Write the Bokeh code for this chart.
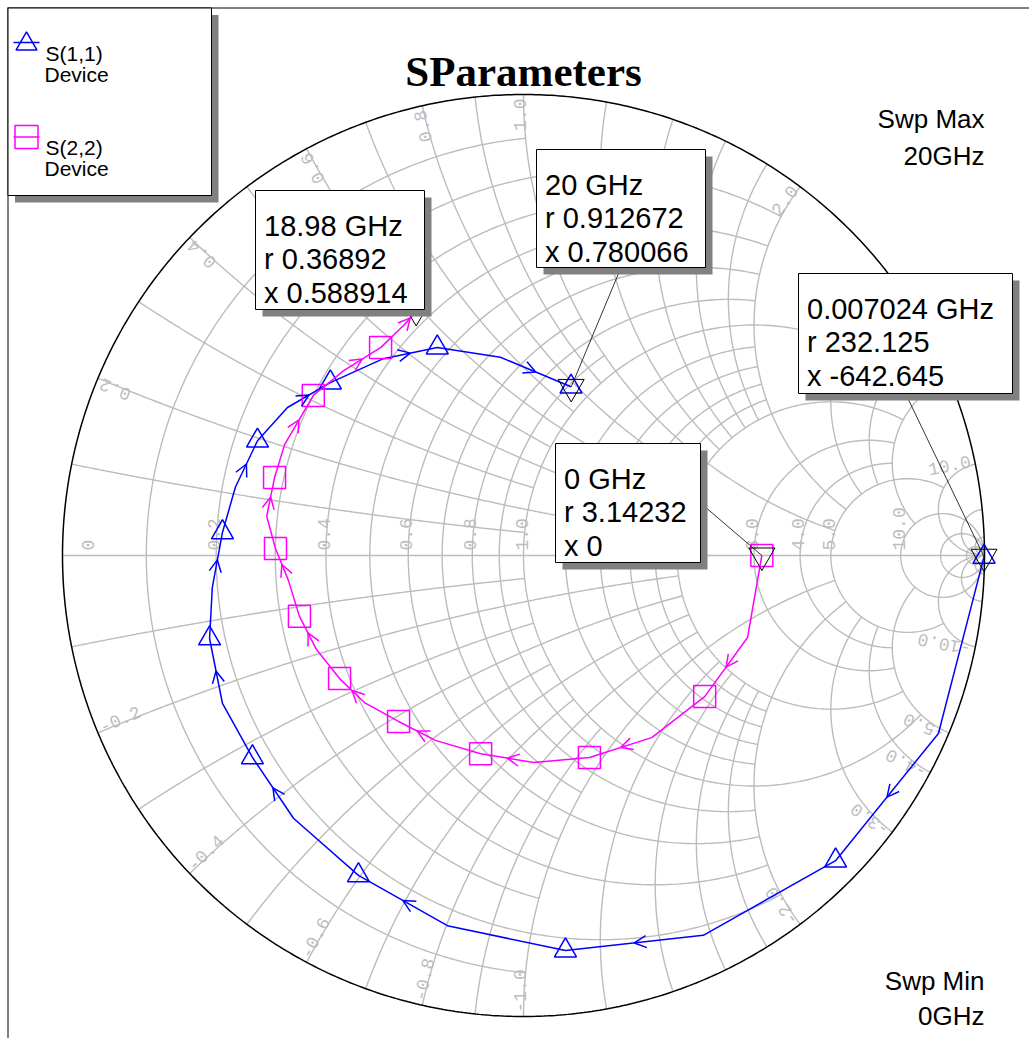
import numpy as np
from bokeh.plotting import figure
from bokeh.models import ColumnDataSource, Arrow, OpenHead, Range1d
from bokeh.core.properties import value
from bokeh.embed import file_html
from bokeh.resources import INLINE

s11_re = [0.999, 0.900, 0.677, 0.390, 0.091, -0.165, -0.358, -0.499, -0.588, -0.653, -0.681,
          -0.675, -0.653, -0.625, -0.577, -0.512, -0.419, -0.304, -0.187, -0.050, 0.103]
s11_im = [-0.003, -0.386, -0.662, -0.824, -0.857, -0.803, -0.694, -0.570, -0.438, -0.321, -0.180,
          -0.069, 0.050, 0.148, 0.249, 0.321, 0.375, 0.427, 0.451, 0.430, 0.366]
s22_re = [0.517, 0.486, 0.393, 0.278, 0.143, 0.022, -0.093, -0.191, -0.271, -0.345, -0.399,
          -0.449, -0.486, -0.510, -0.538, -0.557, -0.540, -0.518, -0.456, -0.390, -0.310,
          -0.258, -0.233]
s22_im = [0.000, -0.178, -0.306, -0.395, -0.438, -0.449, -0.430, -0.401, -0.360, -0.319, -0.267,
          -0.204, -0.132, -0.054, 0.015, 0.085, 0.169, 0.241, 0.347, 0.401, 0.451,
          0.501, 0.530]
trace_names = ["S(1,1)", "S(2,2)"]
trace_sub = ["Device", "Device"]
n_symbols = 11   # symbols drawn on every second point

# marker read-outs
mk_freq = ["18.98 GHz", "20 GHz", "0.007024 GHz", "0 GHz"]
mk_r = ["0.36892", "0.912672", "232.125", "3.14232"]
mk_x = ["0.588914", "0.780066", "-642.645", "0"]

# Smith grid: circle value and the limit of the other coordinate
inf = float("inf")
r_grid = [0.1, 0.2, 0.3, 0.4, 0.5, 0.6, 0.7, 0.8, 0.9, 1.0, 1.2, 1.4, 1.6, 1.8, 2.0, 3.0, 4.0, 5.0, 10.0, 20.0, 50.0]
r_limit = [1, 2, 1, 2, 1, 2, 1, 2, 1, 5, 2, 2, 2, 2, 5, 5, 5, 10, inf, inf, inf]
x_grid = r_grid
x_limit = r_limit
r_labels = [0, 0.2, 0.4, 0.6, 0.8, 1.0, 2.0, 3.0, 4.0, 5.0, 10.0]
x_labels = [0.2, 0.4, 0.6, 0.8, 1.0, 2.0, 3.0, 4.0, 5.0, 10.0,
            -0.2, -0.4, -0.6, -0.8, -1.0, -2.0, -3.0, -4.0, -5.0, -10.0]

# ---------------- layout ----------------
W, H = 1029, 1038
CX, CY, RP = 523.0, 555.0, 461.0
PX = 1.0 / RP


def dx(px):
    return (px - CX) / RP


def dy(py):
    return (CY - py) / RP


p = figure(width=W, height=H, x_range=Range1d(dx(0), dx(W)), y_range=Range1d(dy(H), dy(0)),
           toolbar_location=None, output_backend="svg", x_axis_location=None, y_axis_location=None,
           min_border=0, outline_line_color=None, background_fill_color="white",
           border_fill_color="white")
p.xgrid.visible = False
p.ygrid.visible = False

GRID = "#BCBCBC"
LBL = "#BDBDBD"

# grid curves
gx, gy = [], []
for r, lim in zip(r_grid, r_limit):
    a = np.pi / 2 - 1e-3 if np.isinf(lim) else np.arctan(lim)
    t = np.linspace(-a, a, 401)
    z = r + 1j * np.tan(t)
    g = (z - 1) / (z + 1)
    gx.append(g.real.tolist()); gy.append(g.imag.tolist())
for xv, lim in zip(x_grid, x_limit):
    a = np.pi / 2 - 1e-3 if np.isinf(lim) else np.arctan(lim)
    t = np.linspace(0, a, 301)
    for s in (1, -1):
        z = np.tan(t) + 1j * s * xv
        g = (z - 1) / (z + 1)
        gx.append(g.real.tolist()); gy.append(g.imag.tolist())
gx.append([-1.0, 1.0]); gy.append([0.0, 0.0])
p.multi_line(gx, gy, line_color=GRID, line_width=1.4)

# r labels
lx, ly, lt = [], [], []
for r in r_labels:
    g = (r - 1) / (r + 1)
    off = 25 if r == 0 else -2
    lx.append(g + off * PX); ly.append(5 * PX); lt.append("0" if r == 0 else f"{r:.1f}")
p.text(lx, ly, text=lt, angle=np.pi / 2, text_align="left", text_baseline="alphabetic",
       text_font=value("Liberation Mono"), text_font_size=value("18px"), text_color=LBL)

# x labels
for sgn in (1, -1):
    lx, ly, lt, la = [], [], [], []
    for xv in x_labels:
        if np.sign(xv) != sgn:
            continue
        th = 2 * np.arctan(1 / xv)
        rho = 1 - 4 * PX
        phi = th + 4 * PX * sgn
        lx.append(rho * np.cos(phi)); ly.append(rho * np.sin(phi))
        lt.append(f"{xv:.1f}")
        la.append(th if sgn > 0 else th + np.pi)
    p.text(lx, ly, text=lt, angle=la, text_align="right" if sgn > 0 else "left",
           text_baseline="alphabetic", text_font=value("Liberation Mono"),
           text_font_size=value("18px"), text_color=LBL)

# outer circle
t = np.linspace(0, 2 * np.pi, 721)
p.line(np.cos(t), np.sin(t), line_color="black", line_width=1.5)

# traces
BLUE, MAG = "#0000FF", "#FF00FF"
for re, im, col, mk in ((s11_re, s11_im, BLUE, "triangle"), (s22_re, s22_im, MAG, "square")):
    p.line(re, im, line_color=col, line_width=1.5)
    p.scatter(re[:2 * n_symbols - 1:2], im[:2 * n_symbols - 1:2], marker=mk, size=22,
              fill_color=None, line_color=col, line_width=1.5)
    n = len(re)
    xs = [re[i] for i in range(1, n - 1, 2)]
    ys = [im[i] for i in range(1, n - 1, 2)]
    xe = [(re[i] + re[i + 1]) / 2 for i in range(1, n - 1, 2)]
    ye = [(im[i] + im[i + 1]) / 2 for i in range(1, n - 1, 2)]
    src = ColumnDataSource(dict(xs=xs, ys=ys, xe=xe, ye=ye))
    p.add_layout(Arrow(end=OpenHead(size=12, line_color=col, line_width=1.5),
                       x_start="xs", y_start="ys", x_end="xe", y_end="ye",
                       source=src, line_alpha=0))

# marker symbols
zm = np.array([float(v) for v in mk_r]) + 1j * np.array([float(v) for v in mk_x])
gm = (zm - 1) / (zm + 1)
p.scatter(gm.real, gm.imag, marker="inverted_triangle", size=26, fill_color=None,
          line_color="black", line_width=1)

# marker boxes (pixel rectangles) and leader anchors
box_rects = [(255, 190, 424, 309), (536, 149, 705, 267), (798, 273, 1012, 393), (555, 443, 700, 562)]
box_anchor = ["bottom", "bottom", "bottom", "right"]
for (l, tp, rt, bt), anc, g in zip(box_rects, box_anchor, gm):
    if anc == "bottom":
        ax, ay = (l + rt) / 2, bt
    else:
        ax, ay = rt, (tp + bt) / 2
    p.line([dx(ax), g.real], [dy(ay), g.imag], line_color="black", line_width=0.8)

SH = 7
for (l, tp, rt, bt), f, r, xv in zip(box_rects, mk_freq, mk_r, mk_x):
    p.quad(left=dx(l + SH), right=dx(rt + SH), top=dy(tp + SH), bottom=dy(bt + SH),
           fill_color="#808080", line_color=None)
    p.quad(left=dx(l), right=dx(rt), top=dy(tp), bottom=dy(bt),
           fill_color="white", line_color="black", line_width=1)
    xt = dx(l + 8.5)
    base = tp + 35
    lines = [f, "r " + r, "x " + xv]
    p.text([xt] * 3, [dy(base), dy(base + 33.7), dy(base + 67.4)], text=lines,
           text_align="left", text_baseline="alphabetic", text_font=value("Liberation Sans"),
           text_font_size=value("29px"), text_color="black")

# frame lines
p.line([dx(7.5), dx(7.5)], [dy(7), dy(H)], line_color="black", line_width=1)
p.line([dx(7), dx(W)], [dy(7.5), dy(7.5)], line_color="black", line_width=1)

# legend
p.quad(left=dx(7.5 + SH), right=dx(211 + SH), top=dy(7.5 + SH), bottom=dy(195 + SH),
       fill_color="#808080", line_color=None)
p.quad(left=dx(7.5), right=dx(211), top=dy(7.5), bottom=dy(195), fill_color="white",
       line_color="black", line_width=1)
leg_y = [42, 136.5]
for i, (col, mk) in enumerate(((BLUE, "triangle"), (MAG, "square"))):
    yy = leg_y[i]
    p.line([dx(13), dx(39)], [dy(yy), dy(yy)], line_color=col, line_width=1.5)
    p.scatter([dx(26)], [dy(yy + (1.5 if mk == "triangle" else 0))], marker=mk,
              size=21 if mk == "triangle" else 23, fill_color=None, line_color=col, line_width=1.5)
    p.text([dx(45), dx(44)], [dy(yy + 10.5), dy(yy + 31.5)], text=[trace_names[i], trace_sub[i]],
           text_align="left", text_baseline="alphabetic", text_font=value("Liberation Sans"),
           text_font_size=value("21px"), text_color="black")

# title
p.text([dx(523)], [dy(71)], text=["SParameters"], text_align="center", text_baseline="alphabetic",
       text_font=value("Liberation Serif"), text_font_style="bold",
       text_font_size=value("43px"), text_color="black")

# sweep range
p.text([dx(984)] * 4, [dy(118), dy(155), dy(980), dy(1015)],
       text=["Swp Max", "20GHz", "Swp Min", "0GHz"], text_align="right",
       text_baseline="alphabetic", text_font=value("Liberation Sans"),
       text_font_size=value("26px"), text_color="black")

open("out.html", "w").write(file_html(p, INLINE))
